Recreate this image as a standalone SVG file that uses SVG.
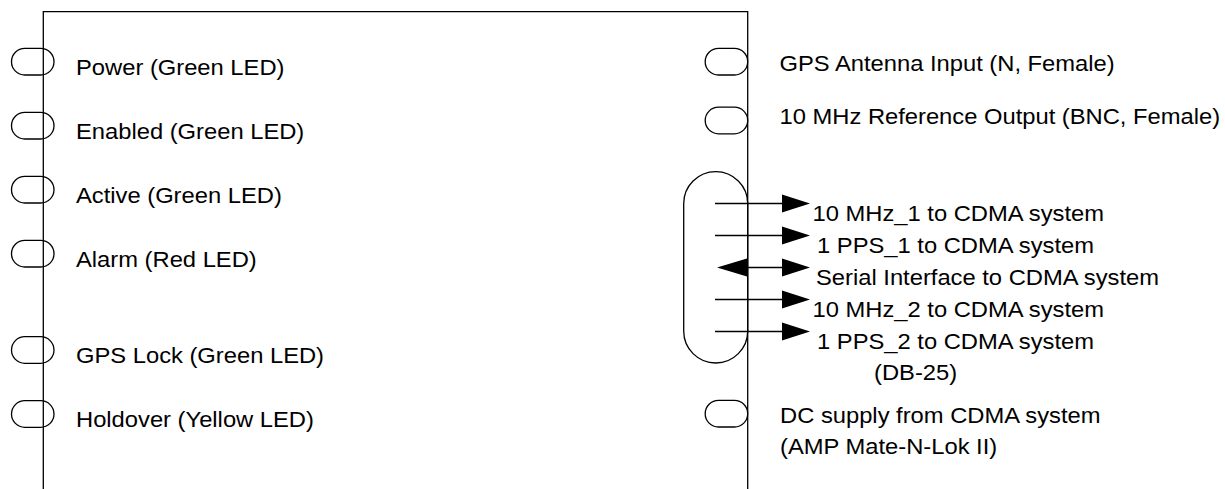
<svg xmlns="http://www.w3.org/2000/svg" width="1225" height="489" viewBox="0 0 1225 489">
<style>
.ln{stroke:#000;stroke-width:1.3;fill:none}
.led{stroke:#000;stroke-width:1.3;fill:#fff}
.t{font-family:"Liberation Sans",Arial,sans-serif;font-size:22px;fill:#000}
.ah{fill:#000;stroke:none}
</style>
<defs>
<rect id="ledshape" x="0" y="-13.3" width="42.5" height="26.6" rx="13.3" class="led"/>
</defs>
<g id="leds">
<g id="led-power"><use href="#ledshape" x="11.5" y="61.7"/></g>
<g id="led-enabled"><use href="#ledshape" x="11.5" y="125.7"/></g>
<g id="led-active"><use href="#ledshape" x="11.5" y="189.7"/></g>
<g id="led-alarm"><use href="#ledshape" x="11.5" y="253.7"/></g>
<g id="led-gpslock"><use href="#ledshape" x="11.5" y="350"/></g>
<g id="led-holdover"><use href="#ledshape" x="11.5" y="414"/></g>
<g id="conn-gps"><use href="#ledshape" x="705.2" y="61.7"/></g>
<g id="conn-10mhz"><use href="#ledshape" x="705.2" y="120.5"/></g>
<g id="conn-dc"><use href="#ledshape" x="705.2" y="413.7"/></g>
<g id="conn-db25"><rect x="683.7" y="171.7" width="64" height="191.3" rx="32" class="led"/></g>
</g>
<g id="box">
<path class="ln" d="M43.3,489 V11.7 H747.7 V489"/>
</g>
<g id="connectors">
<line class="ln" x1="715" y1="203.5" x2="790" y2="203.5"/>
<polygon class="ah" points="782,194.5 810,203.5 782,212.5"/>
<line class="ln" x1="715" y1="235.5" x2="790" y2="235.5"/>
<polygon class="ah" points="782,226.5 810,235.5 782,244.5"/>
<line class="ln" x1="730" y1="267.5" x2="790" y2="267.5"/>
<polygon class="ah" points="782,258.5 810,267.5 782,276.5"/>
<polygon class="ah" points="747,258.5 717,267.5 747,276.5"/>
<line class="ln" x1="715" y1="299.5" x2="790" y2="299.5"/>
<polygon class="ah" points="782,290.5 810,299.5 782,308.5"/>
<line class="ln" x1="715" y1="331.5" x2="790" y2="331.5"/>
<polygon class="ah" points="782,322.5 810,331.5 782,340.5"/>
</g>
<g id="labels">
<text class="t" transform="translate(76,75) scale(1.08,1)">Power (Green LED)</text>
<text class="t" transform="translate(76,139) scale(1.08,1)">Enabled (Green LED)</text>
<text class="t" transform="translate(76,203) scale(1.08,1)">Active (Green LED)</text>
<text class="t" transform="translate(76,267) scale(1.08,1)">Alarm (Red LED)</text>
<text class="t" transform="translate(76,363) scale(1.08,1)">GPS Lock (Green LED)</text>
<text class="t" transform="translate(76,427) scale(1.08,1)">Holdover (Yellow LED)</text>
<text class="t" transform="translate(779.5,71) scale(1.08,1)">GPS Antenna Input (N, Female)</text>
<text class="t" transform="translate(779.5,124) scale(1.08,1)">10 MHz Reference Output (BNC, Female)</text>
<text class="t" transform="translate(812.5,220.7) scale(1.08,1)">10 MHz_1 to CDMA system</text>
<text class="t" transform="translate(817,252.7) scale(1.08,1)">1 PPS_1 to CDMA system</text>
<text class="t" transform="translate(816,284.5) scale(1.08,1)">Serial Interface to CDMA system</text>
<text class="t" transform="translate(812.5,316.5) scale(1.08,1)">10 MHz_2 to CDMA system</text>
<text class="t" transform="translate(817,348.5) scale(1.08,1)">1 PPS_2 to CDMA system</text>
<text class="t" transform="translate(874,380) scale(1.08,1)">(DB-25)</text>
<text class="t" transform="translate(780,423) scale(1.08,1)">DC supply from CDMA system</text>
<text class="t" transform="translate(780,454) scale(1.08,1)">(AMP Mate-N-Lok II)</text>
</g>
</svg>
